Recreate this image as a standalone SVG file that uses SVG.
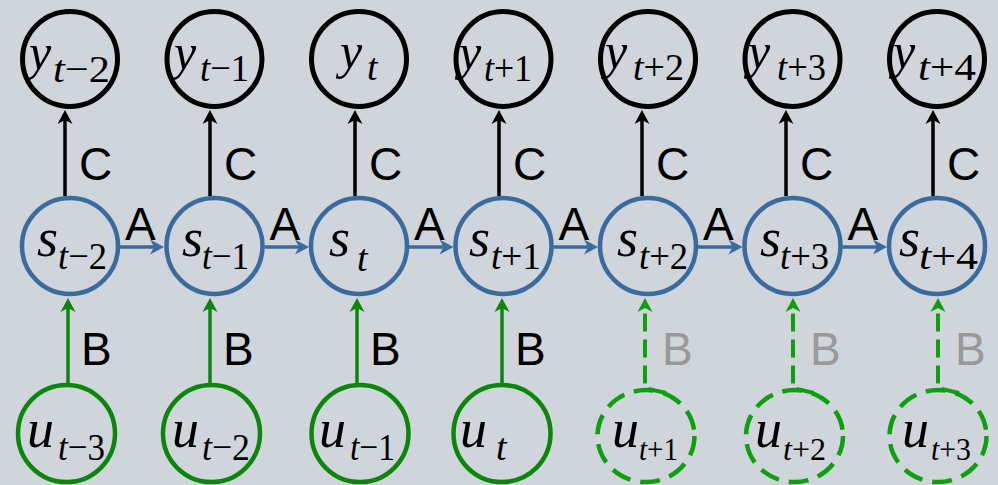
<svg xmlns="http://www.w3.org/2000/svg" width="998" height="485" viewBox="0 0 998 485">
  <style>
    .ycirc { fill: none; stroke: #000; stroke-width: 5; }
    .scirc { fill: none; stroke: #3a6b9e; stroke-width: 4.5; }
    .ucirc { fill: none; stroke: #0a870a; stroke-width: 4.5; }
    .udash { fill: none; stroke: #0ca00c; stroke-width: 4.5; stroke-dasharray: 20 10; }
    .m { font-family: "Liberation Serif", "Times New Roman", serif; font-style: italic; fill: #000; }
    .ym { font-size: 50px; }
    .sm { font-size: 54px; }
    .um { font-size: 54px; }
    .sub { font-family: "Liberation Serif", "Times New Roman", serif; font-size: 38px; fill: #000; }
    .subd { font-size: 31px; }
    .it { font-style: italic; }
    .lbl { font-family: "Liberation Sans", Arial, sans-serif; font-size: 46px; fill: #000; }
    .gray { fill: #999999; }
    .c { stroke: #000; stroke-width: 3.5; fill: none; marker-end: url(#headK); }
    .a { stroke: #3a6b9e; stroke-width: 3.5; fill: none; marker-end: url(#headB); }
    .b { stroke: #0a870a; stroke-width: 3.5; fill: none; marker-end: url(#headG); }
    .bd { stroke: #0ca00c; stroke-width: 4; fill: none; stroke-dasharray: 18 8; marker-end: url(#headGd); }
  </style>
  <defs>
    <marker id="headK" markerUnits="userSpaceOnUse" viewBox="-15 -8 16 16" refX="-10" refY="0" markerWidth="16" markerHeight="16" orient="auto">
      <path d="M0,0 L-14,-7.5 L-10,0 L-14,7.5 Z" fill="#000"/>
    </marker>
    <marker id="headB" markerUnits="userSpaceOnUse" viewBox="-15 -8 16 16" refX="-10" refY="0" markerWidth="16" markerHeight="16" orient="auto">
      <path d="M0,0 L-14,-7.5 L-10,0 L-14,7.5 Z" fill="#3a6b9e"/>
    </marker>
    <marker id="headG" markerUnits="userSpaceOnUse" viewBox="-15 -8 16 16" refX="-10" refY="0" markerWidth="16" markerHeight="16" orient="auto">
      <path d="M0,0 L-14,-7.5 L-10,0 L-14,7.5 Z" fill="#0a870a"/>
    </marker>
    <marker id="headGd" markerUnits="userSpaceOnUse" viewBox="-15 -8 16 16" refX="-10" refY="0" markerWidth="16" markerHeight="16" orient="auto">
      <path d="M0,0 L-14,-7.5 L-10,0 L-14,7.5 Z" fill="#0ca00c"/>
    </marker>
  </defs>

  <rect width="998" height="485" fill="#d0d4db"/>

  <!-- connectors -->
  <g id="connectors">
    <!-- C: state to output -->
    <line class="c" x1="65" y1="196" x2="65" y2="120"/>
    <line class="c" x1="210" y1="196" x2="210" y2="120"/>
    <line class="c" x1="355" y1="196" x2="355" y2="120"/>
    <line class="c" x1="499" y1="196" x2="499" y2="120"/>
    <line class="c" x1="642" y1="196" x2="642" y2="120"/>
    <line class="c" x1="786" y1="196" x2="786" y2="120"/>
    <line class="c" x1="933" y1="196" x2="933" y2="120"/>
    <!-- A: state transitions -->
    <line class="a" x1="120" y1="247" x2="154" y2="247"/>
    <line class="a" x1="264.5" y1="247" x2="299" y2="247"/>
    <line class="a" x1="409" y1="247" x2="443.5" y2="247"/>
    <line class="a" x1="553.5" y1="247" x2="588" y2="247"/>
    <line class="a" x1="698" y1="247" x2="732.5" y2="247"/>
    <line class="a" x1="842.5" y1="247" x2="877" y2="247"/>
    <!-- B: input to state -->
    <line class="b" x1="68" y1="384" x2="68" y2="308"/>
    <line class="b" x1="210" y1="384" x2="210" y2="308"/>
    <line class="b" x1="357" y1="384" x2="357" y2="308"/>
    <line class="b" x1="502" y1="384" x2="502" y2="308"/>
    <path class="bd" d="M666,393 L645,388 L645,308"/>
    <path class="bd" d="M814,393 L793,388 L793,308"/>
    <path class="bd" d="M959,393 L938,388 L938,308"/>
    <!-- edge labels -->
    <text class="lbl" x="79" y="180">C</text>
    <text class="lbl" x="224" y="180">C</text>
    <text class="lbl" x="369" y="180">C</text>
    <text class="lbl" x="513" y="180">C</text>
    <text class="lbl" x="656" y="180">C</text>
    <text class="lbl" x="800" y="180">C</text>
    <text class="lbl" x="947" y="180">C</text>
    <text class="lbl" x="125" y="240">A</text>
    <text class="lbl" x="269.5" y="240">A</text>
    <text class="lbl" x="414" y="240">A</text>
    <text class="lbl" x="558.5" y="240">A</text>
    <text class="lbl" x="703" y="240">A</text>
    <text class="lbl" x="847.5" y="240">A</text>
    <text class="lbl" x="81" y="365">B</text>
    <text class="lbl" x="223" y="365">B</text>
    <text class="lbl" x="370" y="365">B</text>
    <text class="lbl" x="515" y="365">B</text>
    <text class="lbl gray" x="662" y="365">B</text>
    <text class="lbl gray" x="810" y="365">B</text>
    <text class="lbl gray" x="955" y="365">B</text>
  </g>

  <!-- outputs -->
  <g id="y0"><circle class="ycirc" cx="70" cy="59" r="47.5"/>
    <text class="m ym" x="29" y="69">y</text>
    <text class="sub" x="53" y="82" textLength="57" lengthAdjust="spacingAndGlyphs"><tspan class="it">t</tspan>−2</text></g>
  <g id="y1"><circle class="ycirc" cx="214.5" cy="59" r="47.5"/>
    <text class="m ym" x="174" y="69">y</text>
    <text class="sub" x="200" y="81" textLength="49" lengthAdjust="spacingAndGlyphs"><tspan class="it">t</tspan>−1</text></g>
  <g id="y2"><circle class="ycirc" cx="359" cy="59" r="47.5"/>
    <text class="m ym" x="340" y="68">y</text>
    <text class="sub it" x="367" y="80">t</text></g>
  <g id="y3"><circle class="ycirc" cx="503.5" cy="59" r="47.5"/>
    <text class="m ym" x="459" y="69">y</text>
    <text class="sub" x="484" y="81" textLength="48" lengthAdjust="spacingAndGlyphs"><tspan class="it">t</tspan>+1</text></g>
  <g id="y4"><circle class="ycirc" cx="648" cy="59" r="47.5"/>
    <text class="m ym" x="605" y="68">y</text>
    <text class="sub" x="633" y="80" textLength="51" lengthAdjust="spacingAndGlyphs"><tspan class="it">t</tspan>+2</text></g>
  <g id="y5"><circle class="ycirc" cx="792.5" cy="59" r="47.5"/>
    <text class="m ym" x="748" y="68">y</text>
    <text class="sub" x="777" y="80" textLength="49" lengthAdjust="spacingAndGlyphs"><tspan class="it">t</tspan>+3</text></g>
  <g id="y6"><circle class="ycirc" cx="937" cy="59" r="47.5"/>
    <text class="m ym" x="893" y="68">y</text>
    <text class="sub" x="918" y="80" textLength="58" lengthAdjust="spacingAndGlyphs"><tspan class="it">t</tspan>+4</text></g>

  <!-- states -->
  <g id="s0"><circle class="scirc" cx="70" cy="246" r="48"/>
    <text class="m sm" x="37" y="256">s</text>
    <text class="sub" x="58" y="269" textLength="49" lengthAdjust="spacingAndGlyphs"><tspan class="it">t</tspan>−2</text></g>
  <g id="s1"><circle class="scirc" cx="214.5" cy="246" r="48"/>
    <text class="m sm" x="182" y="256">s</text>
    <text class="sub" x="202" y="269" textLength="47" lengthAdjust="spacingAndGlyphs"><tspan class="it">t</tspan>−1</text></g>
  <g id="s2"><circle class="scirc" cx="359" cy="246" r="48"/>
    <text class="m sm" x="329" y="256">s</text>
    <text class="sub it" x="357" y="271">t</text></g>
  <g id="s3"><circle class="scirc" cx="503.5" cy="246" r="48"/>
    <text class="m sm" x="469" y="256">s</text>
    <text class="sub" x="491" y="269" textLength="50" lengthAdjust="spacingAndGlyphs"><tspan class="it">t</tspan>+1</text></g>
  <g id="s4"><circle class="scirc" cx="648" cy="246" r="48"/>
    <text class="m sm" x="617" y="256">s</text>
    <text class="sub" x="639" y="269" textLength="49" lengthAdjust="spacingAndGlyphs"><tspan class="it">t</tspan>+2</text></g>
  <g id="s5"><circle class="scirc" cx="792.5" cy="246" r="48"/>
    <text class="m sm" x="760" y="256">s</text>
    <text class="sub" x="780" y="269" textLength="49" lengthAdjust="spacingAndGlyphs"><tspan class="it">t</tspan>+3</text></g>
  <g id="s6"><circle class="scirc" cx="937" cy="246" r="48"/>
    <text class="m sm" x="899" y="256">s</text>
    <text class="sub" x="919" y="269" textLength="59" lengthAdjust="spacingAndGlyphs"><tspan class="it">t</tspan>+4</text></g>

  <!-- inputs -->
  <g id="u0"><circle class="ucirc" cx="66.5" cy="433.5" r="48.5"/>
    <text class="m um" x="27" y="447">u</text>
    <text class="sub" x="58" y="460" textLength="47" lengthAdjust="spacingAndGlyphs"><tspan class="it">t</tspan>−3</text></g>
  <g id="u1"><circle class="ucirc" cx="211.5" cy="433.5" r="48.5"/>
    <text class="m um" x="172" y="447">u</text>
    <text class="sub" x="202" y="460" textLength="48" lengthAdjust="spacingAndGlyphs"><tspan class="it">t</tspan>−2</text></g>
  <g id="u2"><circle class="ucirc" cx="360" cy="433.5" r="48.5"/>
    <text class="m um" x="319" y="447">u</text>
    <text class="sub" x="350" y="460" textLength="45" lengthAdjust="spacingAndGlyphs"><tspan class="it">t</tspan>−1</text></g>
  <g id="u3"><circle class="ucirc" cx="502" cy="433.5" r="48.5"/>
    <text class="m um" x="460" y="447">u</text>
    <text class="sub it" x="496" y="460">t</text></g>
  <g id="u4"><ellipse class="udash" cx="646" cy="436" rx="48.5" ry="46"/>
    <text class="m um" x="612" y="447">u</text>
    <text class="sub subd" x="639" y="460" textLength="39" lengthAdjust="spacingAndGlyphs"><tspan class="it">t</tspan>+1</text></g>
  <g id="u5"><ellipse class="udash" cx="794.5" cy="436" rx="48.5" ry="46"/>
    <text class="m um" x="755" y="447">u</text>
    <text class="sub subd" x="783" y="460" textLength="43" lengthAdjust="spacingAndGlyphs"><tspan class="it">t</tspan>+2</text></g>
  <g id="u6"><ellipse class="udash" cx="938" cy="436" rx="48.5" ry="46"/>
    <text class="m um" x="902" y="447">u</text>
    <text class="sub subd" x="931" y="460" textLength="40" lengthAdjust="spacingAndGlyphs"><tspan class="it">t</tspan>+3</text></g>
</svg>
